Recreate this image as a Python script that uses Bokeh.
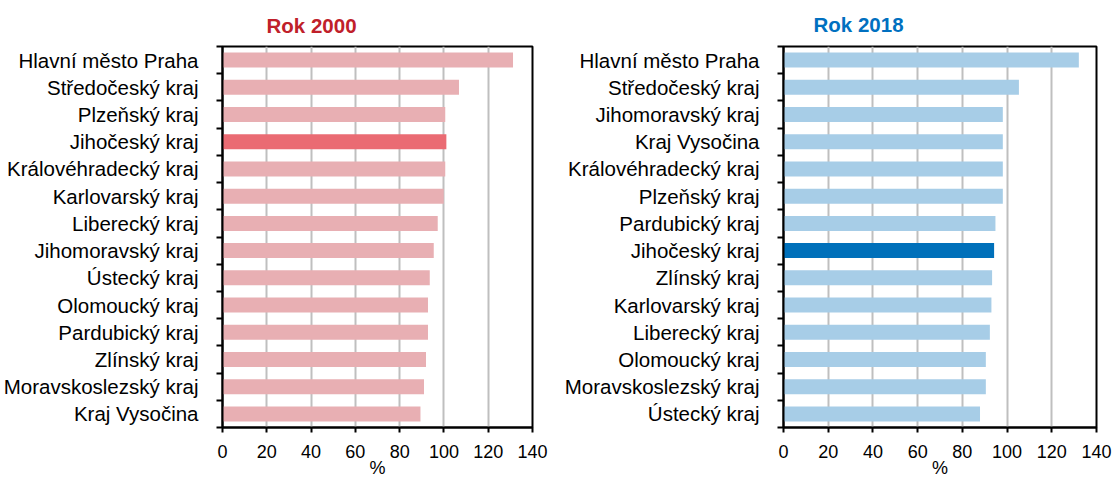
from bokeh.plotting import figure
from bokeh.layouts import row
from bokeh.models import Range1d, FixedTicker, ColumnDataSource, Title
from bokeh.embed import file_html
from bokeh.resources import INLINE

# ---- data ----
regions_2000 = ["Hlavní město Praha", "Středočeský kraj", "Plzeňský kraj", "Jihočeský kraj",
                "Královéhradecký kraj", "Karlovarský kraj", "Liberecký kraj", "Jihomoravský kraj",
                "Ústecký kraj", "Olomoucký kraj", "Pardubický kraj", "Zlínský kraj",
                "Moravskoslezský kraj", "Kraj Vysočina"]
values_2000 = [131.2, 106.8, 100.6, 101.1, 100.6, 99.9, 97.2, 95.4, 93.6, 92.8, 92.8, 91.9, 91.0, 89.4]

regions_2018 = ["Hlavní město Praha", "Středočeský kraj", "Jihomoravský kraj", "Kraj Vysočina",
                "Královéhradecký kraj", "Plzeňský kraj", "Pardubický kraj", "Jihočeský kraj",
                "Zlínský kraj", "Karlovarský kraj", "Liberecký kraj", "Olomoucký kraj",
                "Moravskoslezský kraj", "Ústecký kraj"]
values_2018 = [132.1, 105.3, 98.1, 98.1, 98.1, 98.1, 94.8, 94.2, 93.3, 93.0, 92.3, 90.5, 90.5, 87.9]

highlight = "Jihočeský kraj"
x_ticks = [0, 20, 40, 60, 80, 100, 120, 140]
x_label = "%"


def make_panel(title, title_color, regions, values, base_color, hl_color,
               width, left, right, top, title_offset, title_standoff):
    n = len(regions)
    pos = [n - 1 - i for i in range(n)]
    colors = [hl_color if r == highlight else base_color for r in regions]
    src = ColumnDataSource(dict(y=pos, v=values, c=colors, name=regions))

    p = figure(width=width, height=481, output_backend="svg", toolbar_location=None,
               x_range=Range1d(0, 140), y_range=Range1d(-0.5, n - 0.5),
               min_border_left=left, min_border_right=right,
               min_border_top=top, min_border_bottom=54)
    p.title = Title(text=title, text_color=title_color, text_font="Liberation Sans",
                    text_font_size="20.5px", text_font_style="bold", align="left",
                    offset=title_offset, standoff=title_standoff)
    p.hbar(y="y", left=0, right="v", height=0.55, fill_color="c", line_color=None, source=src)

    p.outline_line_color = "black"
    p.outline_line_width = 2
    p.background_fill_color = "white"
    p.border_fill_color = "white"

    # x axis
    xa = p.xaxis[0]
    xa.ticker = FixedTicker(ticks=x_ticks)
    xa.axis_line_color = "black"
    xa.axis_line_width = 2
    xa.major_tick_in = 0
    xa.major_tick_out = 5
    xa.major_tick_line_width = 2
    xa.minor_tick_line_color = None
    xa.major_label_text_font = "Liberation Sans"
    xa.major_label_text_font_size = "18px"
    xa.major_label_text_color = "black"
    xa.major_label_standoff = 12
    xa.axis_label = x_label
    xa.axis_label_text_font = "Liberation Sans"
    xa.axis_label_text_font_size = "18px"
    xa.axis_label_text_font_style = "normal"
    xa.axis_label_text_color = "black"
    xa.axis_label_standoff = -3

    # y axis: labels at centers, ticks at boundaries
    ya = p.yaxis[0]
    ya.ticker = FixedTicker(ticks=pos, minor_ticks=[k - 0.5 for k in range(n + 1)])
    ya.major_label_overrides = {pp: r for pp, r in zip(pos, regions)}
    ya.axis_line_color = "black"
    ya.axis_line_width = 2
    ya.major_tick_in = 0
    ya.major_tick_out = 0
    ya.major_tick_line_color = None
    ya.minor_tick_in = 0
    ya.minor_tick_out = 6
    ya.minor_tick_line_color = "black"
    ya.minor_tick_line_width = 2
    ya.major_label_text_font = "Liberation Sans"
    ya.major_label_text_font_size = "20.5px"
    ya.major_label_text_color = "black"
    ya.major_label_standoff = 18

    p.xgrid.ticker = FixedTicker(ticks=x_ticks[1:-1])
    p.xgrid.grid_line_color = "#BFBFBF"
    p.xgrid.grid_line_width = 2
    p.ygrid.grid_line_color = None
    return p


p1 = make_panel("Rok 2000", "#C0202A", regions_2000, values_2000, "#E8AFB3", "#EA6B73",
                556, 222, 24, 41, 44, 20)
p2 = make_panel("Rok 2018", "#0070C0", regions_2018, values_2018, "#A7CDE7", "#0070BA",
                558, 227, 18, 45, 30, 21)

layout = row(p1, p2, spacing=0)
open("out.html", "w").write(file_html(layout, INLINE))
